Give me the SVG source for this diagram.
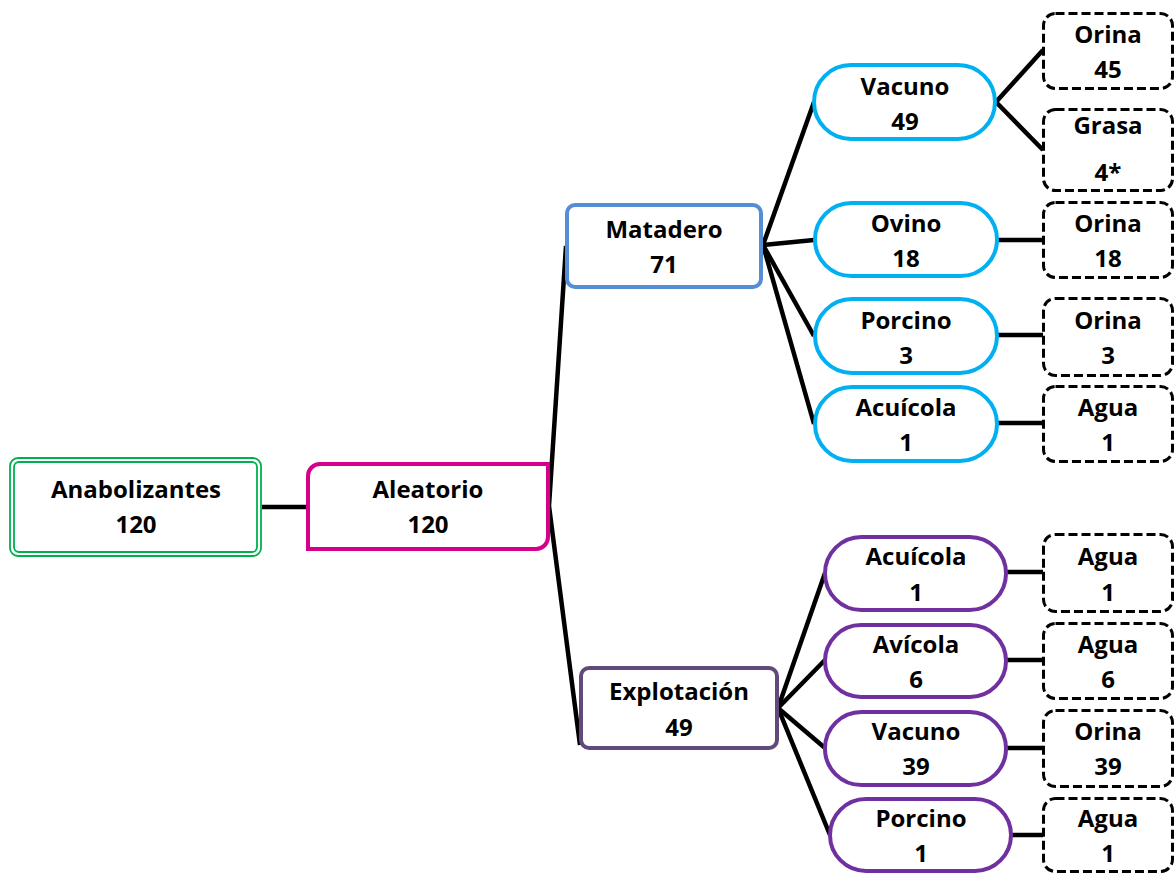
<svg xmlns="http://www.w3.org/2000/svg" width="1176" height="874" viewBox="0 0 1176 874">
  <style>
    text { font-family: "Open Sans", Lato, "Liberation Sans", sans-serif; font-weight: 700; font-size: 24px; fill: #000; text-anchor: middle; }
    .link { stroke: #000; stroke-width: 4.5; fill: none; stroke-linecap: butt; }
    .root { fill: #fff; stroke: #00b050; stroke-width: 1.8; }
    .rand { fill: #fff; stroke: #d4008c; stroke-width: 4; }
    .slaughter { fill: #fff; stroke: #558ed5; stroke-width: 4; }
    .farm { fill: #fff; stroke: #604a7b; stroke-width: 4; }
    .species-a { fill: #fff; stroke: #00b0f0; stroke-width: 4; }
    .species-b { fill: #fff; stroke: #7030a0; stroke-width: 4; }
    .sample { fill: #fff; stroke: #000; stroke-width: 3; stroke-dasharray: 9 4; }
  </style>

  <!-- connectors -->
  <g id="connectors">
    <line class="link" x1="262" y1="507" x2="306" y2="507"/>
    <polyline class="link" points="566,246 549,506 580,745"/>
    <line class="link" x1="763" y1="245" x2="814" y2="102"/>
    <line class="link" x1="763" y1="245" x2="814" y2="240"/>
    <line class="link" x1="763" y1="245" x2="814" y2="336"/>
    <line class="link" x1="763" y1="245" x2="814" y2="424"/>
    <polyline class="link" points="1043,50 996,102 1043,150"/>
    <line class="link" x1="997" y1="240" x2="1043" y2="240"/>
    <line class="link" x1="997" y1="335" x2="1043" y2="335"/>
    <line class="link" x1="997" y1="423" x2="1043" y2="423"/>
    <line class="link" x1="778" y1="708" x2="825" y2="573"/>
    <line class="link" x1="778" y1="708" x2="825" y2="660"/>
    <line class="link" x1="778" y1="708" x2="825" y2="748"/>
    <line class="link" x1="778" y1="708" x2="830" y2="835"/>
    <line class="link" x1="1006" y1="572" x2="1043" y2="572"/>
    <line class="link" x1="1006" y1="660" x2="1043" y2="660"/>
    <line class="link" x1="1006" y1="748" x2="1043" y2="748"/>
    <line class="link" x1="1011" y1="835" x2="1043" y2="835"/>
  </g>

  <!-- root -->
  <g id="anabolizantes">
    <rect class="root" x="10" y="458" width="251" height="98" rx="8"/>
    <rect class="root" x="14" y="462" width="243" height="90" rx="5"/>
    <text x="136" y="498">Anabolizantes</text>
    <text x="136" y="533">120</text>
  </g>

  <g id="aleatorio">
    <path class="rand" d="M320,464 H548 V537 A12,12 0 0 1 536,549 H308 V476 A12,12 0 0 1 320,464 Z"/>
    <text x="428" y="498">Aleatorio</text>
    <text x="428" y="533">120</text>
  </g>

  <g id="matadero">
    <rect class="slaughter" x="567" y="205" width="194" height="82" rx="8"/>
    <text x="664" y="238">Matadero</text>
    <text x="664" y="273">71</text>
  </g>

  <g id="explotacion">
    <rect class="farm" x="581" y="668" width="196" height="80" rx="8"/>
    <text x="679" y="700">Explotación</text>
    <text x="679" y="736">49</text>
  </g>

  <!-- slaughterhouse species -->
  <g id="matadero-vacuno">
    <rect class="species-a" x="814" y="65" width="181" height="74" rx="37"/>
    <text x="905" y="95">Vacuno</text>
    <text x="905" y="130">49</text>
  </g>
  <g id="matadero-ovino">
    <rect class="species-a" x="815" y="203" width="182" height="73" rx="36.5"/>
    <text x="906" y="232">Ovino</text>
    <text x="906" y="267">18</text>
  </g>
  <g id="matadero-porcino">
    <rect class="species-a" x="815" y="299" width="182" height="74" rx="37"/>
    <text x="906" y="329">Porcino</text>
    <text x="906" y="364">3</text>
  </g>
  <g id="matadero-acuicola">
    <rect class="species-a" x="815" y="387" width="182" height="74" rx="37"/>
    <text x="906" y="416">Acuícola</text>
    <text x="906" y="451">1</text>
  </g>

  <!-- farm species -->
  <g id="explotacion-acuicola">
    <rect class="species-b" x="825" y="537" width="181" height="73" rx="36.5"/>
    <text x="916" y="565">Acuícola</text>
    <text x="916" y="601">1</text>
  </g>
  <g id="explotacion-avicola">
    <rect class="species-b" x="825" y="625" width="181" height="72" rx="36"/>
    <text x="916" y="653">Avícola</text>
    <text x="916" y="688">6</text>
  </g>
  <g id="explotacion-vacuno">
    <rect class="species-b" x="825" y="712" width="181" height="73" rx="36.5"/>
    <text x="916" y="740">Vacuno</text>
    <text x="916" y="775">39</text>
  </g>
  <g id="explotacion-porcino">
    <rect class="species-b" x="830" y="799" width="181" height="72" rx="36"/>
    <text x="921" y="827">Porcino</text>
    <text x="921" y="862">1</text>
  </g>

  <!-- samples -->
  <g id="muestra-orina-45">
    <rect class="sample" x="1043.5" y="13.5" width="129" height="75" rx="12"/>
    <text x="1108" y="43">Orina</text>
    <text x="1108" y="78">45</text>
  </g>
  <g id="muestra-grasa-4">
    <rect class="sample" x="1043.5" y="109.5" width="129" height="81" rx="12"/>
    <text x="1108" y="134">Grasa</text>
    <text x="1108" y="181">4*</text>
  </g>
  <g id="muestra-orina-18">
    <rect class="sample" x="1043.5" y="202.5" width="129" height="75" rx="12"/>
    <text x="1108" y="232">Orina</text>
    <text x="1108" y="267">18</text>
  </g>
  <g id="muestra-orina-3">
    <rect class="sample" x="1043.5" y="298.5" width="129" height="77" rx="12"/>
    <text x="1108" y="329">Orina</text>
    <text x="1108" y="364">3</text>
  </g>
  <g id="muestra-agua-1a">
    <rect class="sample" x="1043.5" y="386.5" width="129" height="75" rx="12"/>
    <text x="1108" y="416">Agua</text>
    <text x="1108" y="451">1</text>
  </g>
  <g id="muestra-agua-1b">
    <rect class="sample" x="1043.5" y="534.5" width="129" height="77" rx="12"/>
    <text x="1108" y="565">Agua</text>
    <text x="1108" y="601">1</text>
  </g>
  <g id="muestra-agua-6">
    <rect class="sample" x="1043.5" y="623.5" width="129" height="75" rx="12"/>
    <text x="1108" y="653">Agua</text>
    <text x="1108" y="688">6</text>
  </g>
  <g id="muestra-orina-39">
    <rect class="sample" x="1043.5" y="710.5" width="129" height="76" rx="12"/>
    <text x="1108" y="740">Orina</text>
    <text x="1108" y="775">39</text>
  </g>
  <g id="muestra-agua-1c">
    <rect class="sample" x="1043.5" y="798.5" width="129" height="73" rx="12"/>
    <text x="1108" y="827">Agua</text>
    <text x="1108" y="862">1</text>
  </g>
</svg>
